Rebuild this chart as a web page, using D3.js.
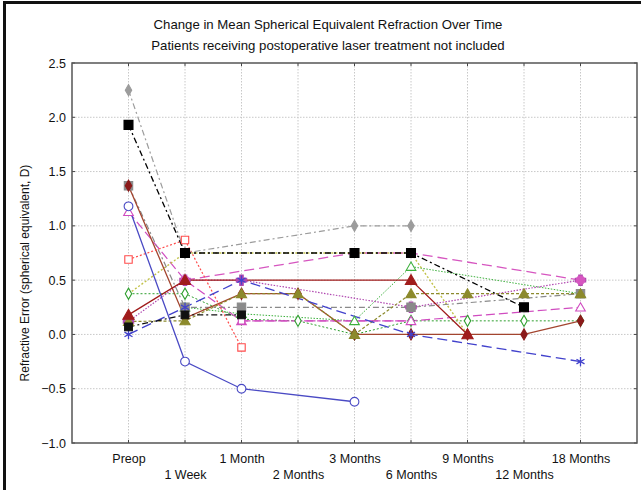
<!DOCTYPE html>
<html><head><meta charset="utf-8">
<script src="https://cdn.jsdelivr.net/npm/d3@7"></script>
<style>
html,body{margin:0;padding:0;background:#fff;}
svg{display:block;font-family:"Liberation Sans",Arial,sans-serif;}
</style></head>
<body><svg id="c" width="641" height="490"></svg>
<script>
const categories = ["Preop","1 Week","1 Month","2 Months","3 Months","6 Months","9 Months","12 Months","18 Months"];
const yTicks = [2.5,2.0,1.5,1.0,0.5,0.0,-0.5,-1.0];
const titleLines = ["Change in Mean Spherical Equivalent Refraction Over Time","Patients receiving postoperative laser treatment not included"];
const yLabel = "Refractive Error (spherical equivalent, D)";

// series values (null = no measurement)
const blueCircle   = [1.18,-0.25,-0.5,null,-0.62,null,null,null,null];
const redSquare    = [0.69,0.87,-0.12,null,null,null,null,null,null];
const greenDiamond = [0.375,0.375,0.14,0.125,0.0,0.125,0.125,0.125,0.125];
const magentaSq    = [null,null,0.125,null,null,null,null,null,null];
const magentaTri   = [1.13,0.5,0.125,null,null,0.125,null,null,0.25];
const magentaDash  = [null,null,0.125,0.125,0.125,0.125,null,null,null];
const darkRedTri   = [0.18,0.5,null,null,null,0.5,0.0,null,null];
const brownDiamond = [1.37,0.15,0.375,0.375,0.0,0.0,0.0,0.0,0.125];
const oliveTri     = [0.12,0.125,0.375,0.375,0.0,0.375,0.375,0.375,0.375];
const khaki        = [0.375,0.75,0.75,0.75,0.75,0.75,0.0,null,null];
const grayDiamond  = [2.25,0.75,null,null,1.0,1.0,null,null,null];
const graySquare   = [1.37,0.25,0.25,null,null,0.25,null,null,0.375];
const blackSmall   = [0.07,0.18,0.18,null,null,null,null,null,null];
const pinkCircle   = [null,0.5,null,null,0.75,0.75,null,null,0.5];
const purplePlus   = [0.12,0.5,0.5,null,null,0.25,null,null,0.5];
const blueStar     = [0.0,0.25,0.5,null,null,0.0,null,null,-0.25];
const greenTri     = [null,0.25,0.19,null,0.125,0.625,null,null,0.375];
const blackSquare  = [1.93,0.75,null,null,0.75,0.75,null,0.25,null];

const series = [
  {v:greenDiamond, c:"#2f9f2f", dash:"2,2", w:1, m:"diamond", fill:false, s:36},
  {v:greenTri, c:"#3cb03c", dash:"1.5,1.5", w:1, m:"triangle", fill:false, s:40},
  {v:magentaDash, c:"#d04cc0", dash:"9,4", w:1.2, m:"none", fill:false, s:0},
  {v:magentaTri, c:"#d04cc0", dash:"9,4", w:1.2, m:"triangle", fill:false, s:40},
  {v:magentaSq, c:"#d04cc0", dash:null, w:1, m:"square", fill:false, s:40},
  {v:purplePlus, c:"#b048b0", dash:"1.5,1.5", w:1.2, m:"plus", fill:true, s:60},
  {v:pinkCircle, c:"#d656c0", dash:"10,5", w:1.3, m:"circle", fill:true, s:55},
  {v:khaki, c:"#c2c24a", dash:"2,2", w:1.4, m:"none", fill:true, s:0},
  {v:graySquare, c:"#8a8a8a", dash:"6,3,2,3", w:1.2, m:"square", fill:true, s:70},
  {v:brownDiamond, c:"#a3452f", dash:null, w:1.3, m:"diamond", fill:true, s:36, mc:"#8b1a1a"},
  {v:oliveTri, c:"#8c8a2c", dash:"3,2", w:1.2, m:"triangle", fill:true, s:45},
  {v:darkRedTri, c:"#a01c1c", dash:null, w:1.3, m:"triangle", fill:true, s:55},
  {v:redSquare, c:"#ff4b4b", dash:"2,2", w:1.2, m:"square", fill:false, s:55},
  {v:blueCircle, c:"#4a4ac4", dash:null, w:1.3, m:"circle", fill:false, s:60},
  {v:blueStar, c:"#4242cc", dash:"10,5", w:1.3, m:"asterisk", fill:false, s:60},
  {v:grayDiamond, c:"#9c9c9c", dash:"6,3,2,3", w:1.2, m:"diamond", fill:true, s:36},
  {v:blackSmall, c:"#111", dash:"6,3,2,3", w:1.2, m:"square", fill:true, s:60},
  {v:blackSquare, c:"#000", dash:"6,3,2,3", w:1.3, m:"square", fill:true, s:80}
];

const svg = d3.select("#c");
const L=72, R=637, T=63, B=443;
const x = d3.scalePoint().domain(categories).range([L,R]).padding(1);
const y = d3.scaleLinear().domain([-1.0,2.5]).range([B,T]);

// outer frame (left & top)
svg.append("path").attr("d",`M4.5,490 L4.5,2.5 L641,2.5`).attr("fill","none").attr("stroke","#111").attr("stroke-width",3);

// titles
svg.selectAll("text.title").data(titleLines).enter().append("text")
  .attr("x",328).attr("y",(d,i)=>28.5+i*21).attr("text-anchor","middle")
  .attr("font-size",13.2).attr("fill","#111").text(d=>d);

// grid
const g = svg.append("g");
g.selectAll("line.vg").data(categories).enter().append("line")
  .attr("x1",d=>x(d)).attr("x2",d=>x(d)).attr("y1",T).attr("y2",B)
  .attr("stroke","#c8c8c8").attr("stroke-dasharray","1.5,1.5").attr("stroke-width",1);
g.selectAll("line.hg").data(yTicks.filter(t=>t<2.5&&t>-1)).enter().append("line")
  .attr("x1",L).attr("x2",R).attr("y1",d=>y(d)).attr("y2",d=>y(d))
  .attr("stroke","#c8c8c8").attr("stroke-dasharray","1.5,1.5").attr("stroke-width",1);

// axes
const yAxis = d3.axisLeft(y).tickValues(yTicks).tickFormat(d3.format(".1f")).tickSize(0).tickPadding(6);
const ya = svg.append("g").attr("transform",`translate(${L},0)`).call(yAxis);
ya.select(".domain").remove();
ya.selectAll("text").attr("font-size",12.5).attr("fill","#111").attr("font-family","Liberation Sans, Arial, sans-serif");

const xAxis = d3.axisBottom(x).tickSize(0).tickPadding(0);
const xa = svg.append("g").attr("transform",`translate(0,${B})`).call(xAxis);
xa.select(".domain").remove();
xa.selectAll("text").attr("font-size",12.5).attr("fill","#111").attr("font-family","Liberation Sans, Arial, sans-serif")
  .attr("dy",null).attr("y",(d,i)=> i%2===0 ? 20 : 36);

// small inner ticks
svg.selectAll("line.tt").data(categories).enter().append("line")
  .attr("x1",d=>x(d)).attr("x2",d=>x(d)).attr("y1",T).attr("y2",T+3).attr("stroke","#444");
svg.selectAll("line.bt").data(categories).enter().append("line")
  .attr("x1",d=>x(d)).attr("x2",d=>x(d)).attr("y1",B-3).attr("y2",B).attr("stroke","#444");
svg.selectAll("line.rt").data(yTicks).enter().append("line")
  .attr("x1",R-3).attr("x2",R).attr("y1",d=>y(d)).attr("y2",d=>y(d)).attr("stroke","#444");
svg.selectAll("line.lt").data(yTicks).enter().append("line")
  .attr("x1",L).attr("x2",L+3).attr("y1",d=>y(d)).attr("y2",d=>y(d)).attr("stroke","#444");

// y label
svg.append("text").attr("transform",`translate(29,273) rotate(-90)`).attr("text-anchor","middle")
  .attr("font-size",12).attr("fill","#111").text(yLabel);

// series
const line = d3.line().x(d=>x(d.c)).y(d=>y(d.v));
const symType = {
  circle:d3.symbolCircle, square:d3.symbolSquare, diamond:d3.symbolDiamond,
  triangle:d3.symbolTriangle, plus:d3.symbolCross,
  asterisk: d3.symbolAsterisk || d3.symbolCross
};
const plot = svg.append("g");
series.forEach(s=>{
  const pts = s.v.map((v,i)=>({c:categories[i],v:v})).filter(d=>d.v!==null);
  if(pts.length<2) return;
  plot.append("path").datum(pts).attr("d",line).attr("fill","none")
    .attr("stroke",s.c).attr("stroke-width",s.w).attr("stroke-dasharray",s.dash);
});
series.forEach(s=>{
  if(s.m==="none") return;
  const pts = s.v.map((v,i)=>({c:categories[i],v:v})).filter(d=>d.v!==null);
  const mc = s.mc||s.c;
  const sym = d3.symbol().type(symType[s.m]).size(s.s);
  const gg = plot.append("g");
  gg.selectAll("path").data(pts).enter().append("path")
    .attr("d",sym)
    .attr("transform",d=>`translate(${x(d.c)},${y(d.v)})${s.m==="triangle"?" translate(0,1)":""}`)
    .attr("fill", (s.m==="asterisk")?"none":(s.fill?mc:"#fff"))
    .attr("stroke", mc).attr("stroke-width", s.m==="asterisk"?1.3:1.1);
  if(s.m==="asterisk" && !d3.symbolAsterisk){
    gg.selectAll("path.t").data(pts).enter().append("path")
      .attr("d",d3.symbol().type(d3.symbolCross).size(s.s))
      .attr("transform",d=>`translate(${x(d.c)},${y(d.v)}) rotate(45)`)
      .attr("fill","none").attr("stroke",mc);
  }
});

// plot border
svg.append("rect").attr("x",L).attr("y",T).attr("width",R-L).attr("height",B-T)
  .attr("fill","none").attr("stroke","#555").attr("stroke-width",1.5);
</script></body></html>
